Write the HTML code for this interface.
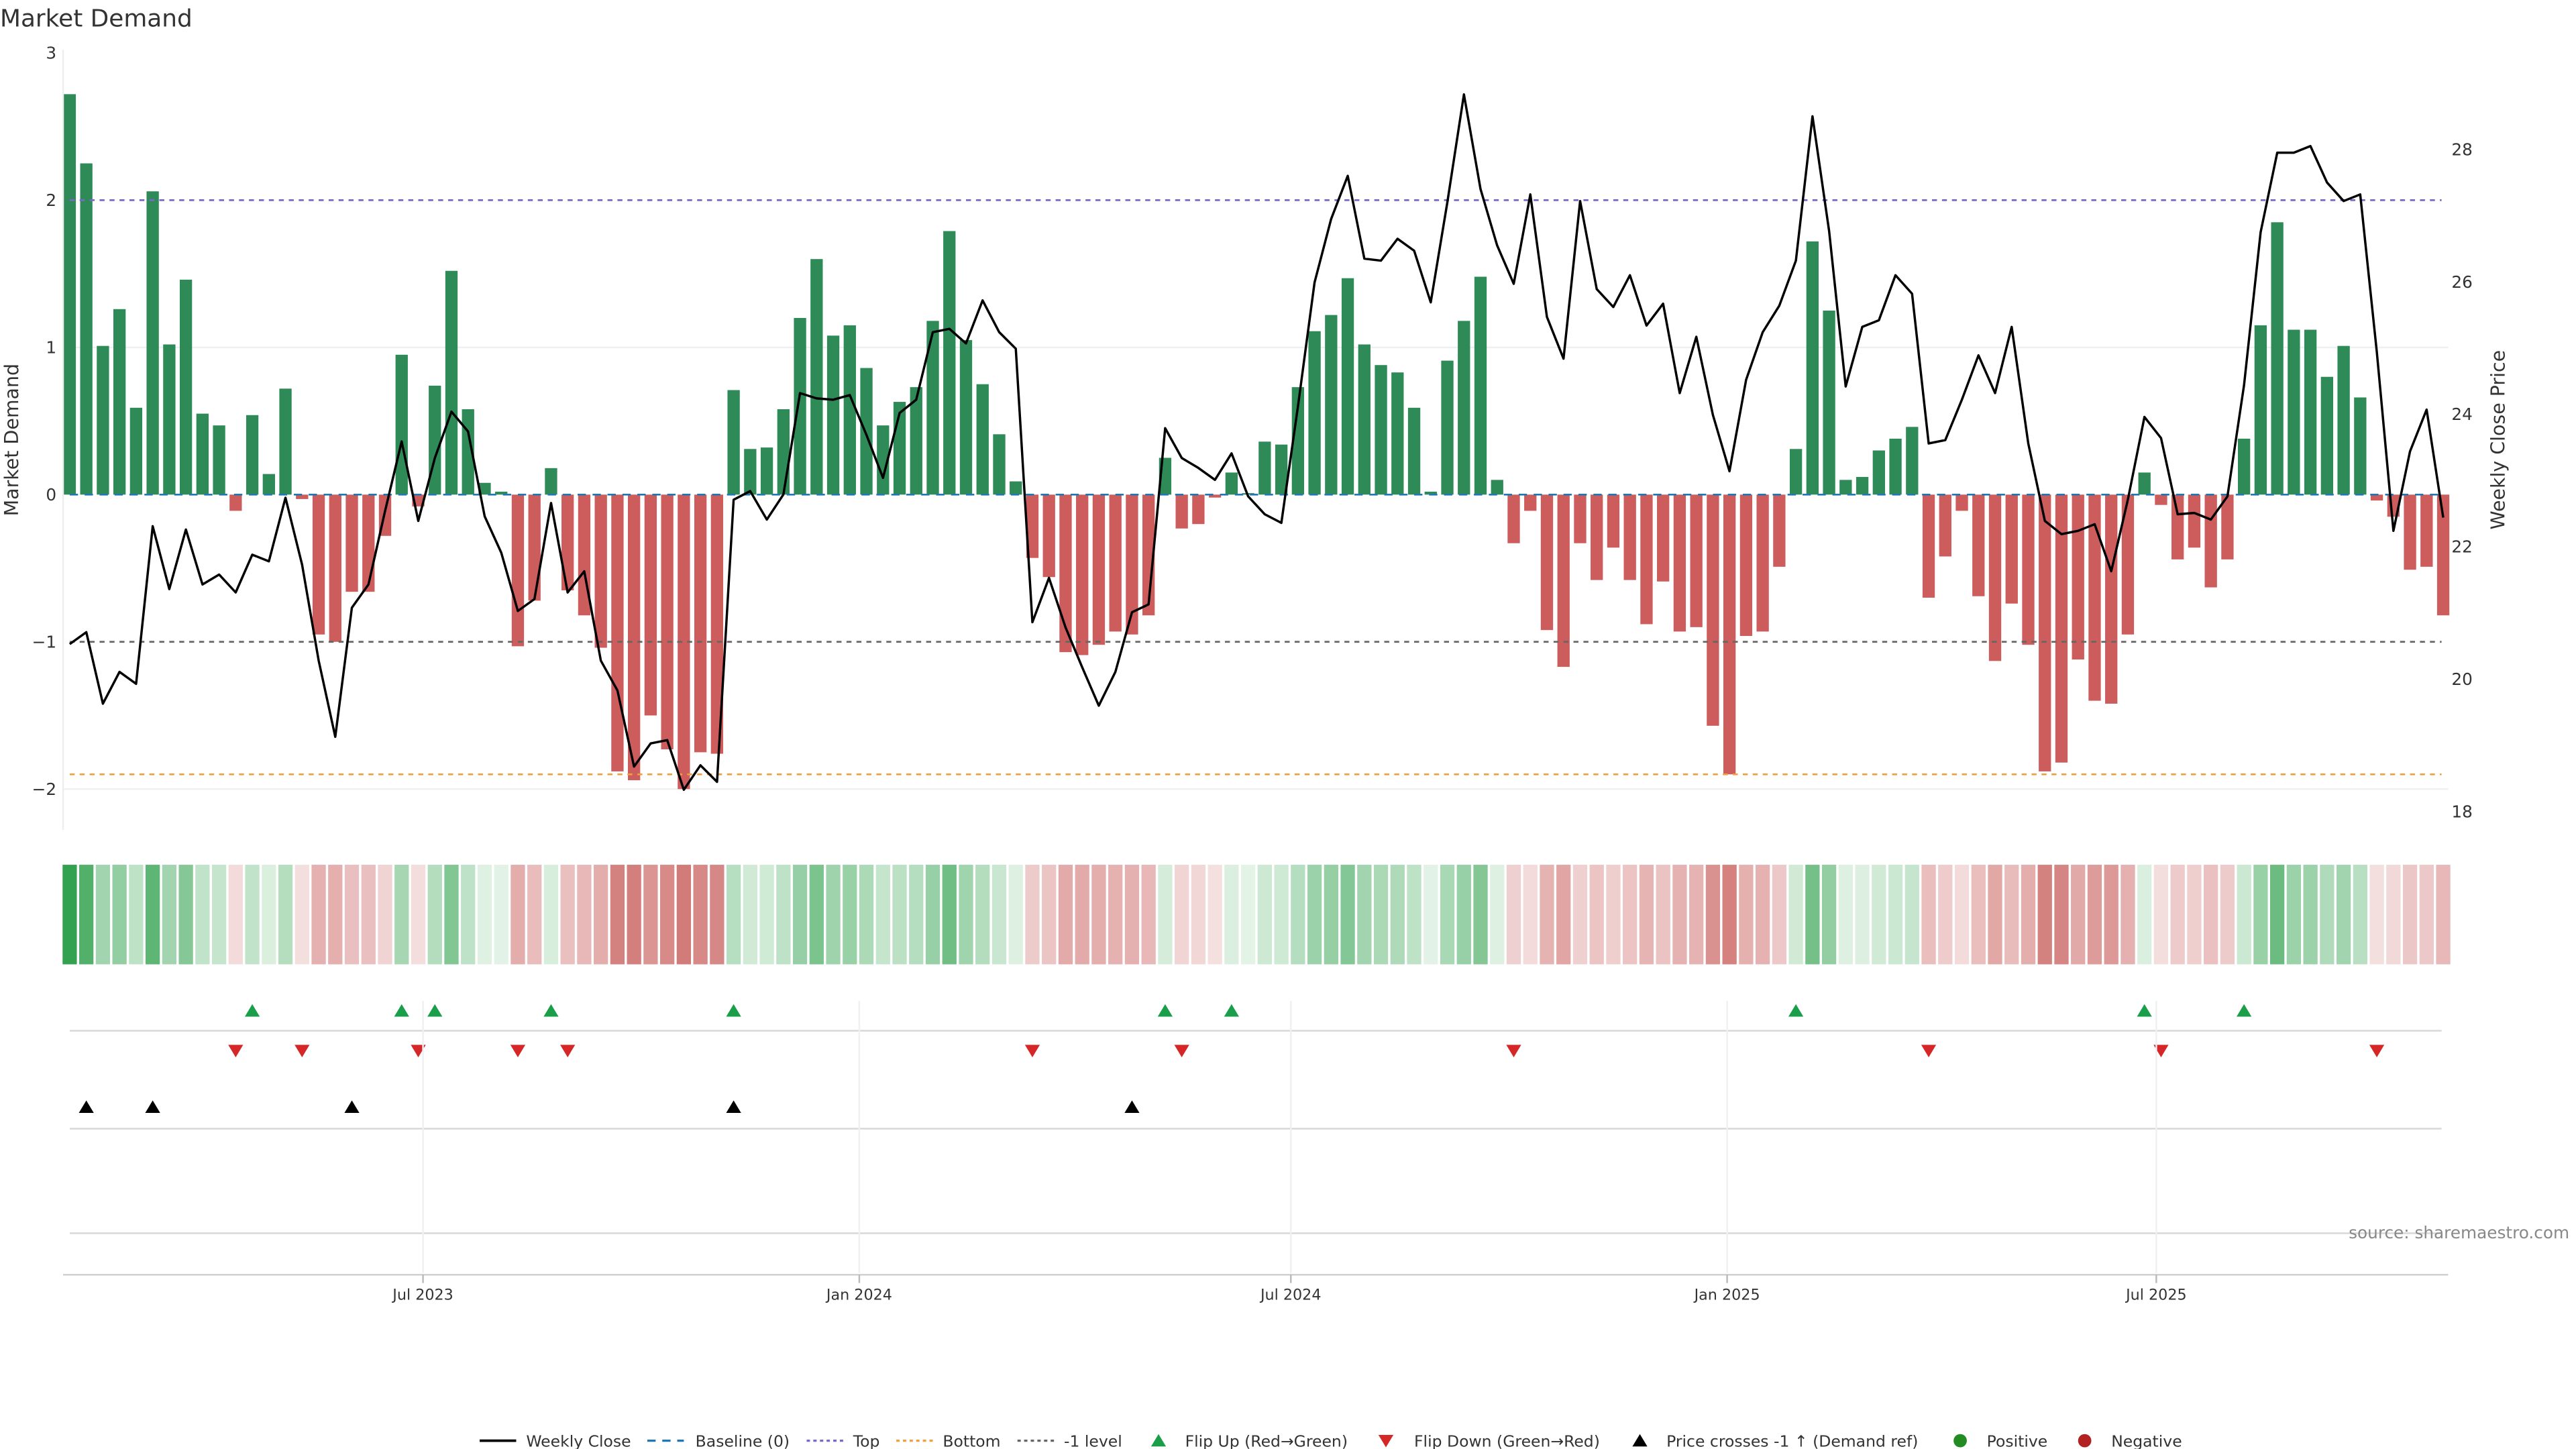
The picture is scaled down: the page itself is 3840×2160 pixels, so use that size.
<!DOCTYPE html>
<html><head><meta charset="utf-8"><title>Market Demand</title>
<style>
html,body{margin:0;padding:0;background:#fff;}
svg{display:block;font-family:"DejaVu Sans","Liberation Sans",sans-serif;}
</style></head>
<body>
<svg id="chart" width="3840" height="2160" viewBox="0 0 1552 873" xmlns="http://www.w3.org/2000/svg">
<text x="0" y="16" font-size="14.5" fill="#333">Market Demand</text>
<g id="grid"></g>
<g id="bars"></g>
<g id="heat"></g>
<g id="refs"></g>
<g id="line"></g>
<g id="markers"></g>
<g id="axes"></g>
<g id="legend"></g>
<text x="1548" y="746" font-size="10" fill="#888" text-anchor="end">source: sharemaestro.com</text>
</svg>
<script>
const demand = [2.72,2.25,1.01,1.26,0.59,2.06,1.02,1.46,0.55,0.47,-0.11,0.54,0.14,0.72,-0.03,-0.95,-1.0,-0.66,-0.66,-0.28,
0.95,-0.08,0.74,1.52,0.58,0.08,0.02,-1.03,-0.72,0.18,-0.65,-0.82,-1.04,-1.88,-1.94,-1.50,-1.73,-2.0,-1.75,-1.76,
0.71,0.31,0.32,0.58,1.2,1.6,1.08,1.15,0.86,0.47,0.63,0.73,1.18,1.79,1.05,0.75,0.41,0.09,-0.43,-0.56,
-1.07,-1.09,-1.02,-0.93,-0.95,-0.82,0.25,-0.23,-0.2,-0.02,0.15,0.01,0.36,0.34,0.73,1.11,1.22,1.47,1.02,0.88,
0.83,0.59,0.02,0.91,1.18,1.48,0.1,-0.33,-0.11,-0.92,-1.17,-0.33,-0.58,-0.36,-0.58,-0.88,-0.59,-0.93,-0.9,-1.57,
-1.9,-0.96,-0.93,-0.49,0.31,1.72,1.25,0.1,0.12,0.3,0.38,0.46,-0.7,-0.42,-0.11,-0.69,-1.13,-0.74,-1.02,-1.88,
-1.82,-1.12,-1.4,-1.42,-0.95,0.15,-0.07,-0.44,-0.36,-0.63,-0.44,0.38,1.15,1.85,1.12,1.12,0.8,1.01,0.66,-0.04,
-0.15,-0.51,-0.49,-0.82];
const price = [20.53,20.71,19.63,20.11,19.93,22.31,21.36,22.26,21.43,21.58,21.31,21.88,21.78,22.74,21.73,20.28,19.13,21.08,21.43,22.54,
23.59,22.39,23.34,24.04,23.74,22.46,21.91,21.03,21.21,22.66,21.31,21.63,20.28,19.83,18.68,19.03,19.08,18.33,18.70,18.45,
22.71,22.84,22.41,22.79,24.32,24.24,24.22,24.29,23.69,23.04,24.02,24.22,25.24,25.29,25.07,25.72,25.24,24.99,20.86,21.53,
20.78,20.18,19.60,20.11,21.01,21.13,23.79,23.34,23.19,23.01,23.41,22.76,22.49,22.36,24.12,25.99,26.95,27.60,26.35,26.32,
26.65,26.47,25.69,27.20,28.83,27.40,26.55,25.97,27.32,25.47,24.84,27.22,25.89,25.62,26.10,25.34,25.67,24.32,25.17,23.99,
23.14,24.52,25.24,25.64,26.32,28.50,26.77,24.42,25.32,25.42,26.10,25.82,23.56,23.61,24.22,24.89,24.32,25.32,23.56,22.39,
22.19,22.24,22.34,21.63,22.71,23.96,23.64,22.49,22.51,22.41,22.76,24.44,26.75,27.95,27.95,28.05,27.50,27.22,27.32,24.94,
22.24,23.44,24.07,22.44];
const demandTicks = [3,2,1,0,-1,-2];
const priceTicks = [28,26,24,22,20,18];
const refLevels = [0,2,-1,-1.9];
const dateTickLabels = ["Jul 2023","Jan 2024","Jul 2024","Jan 2025","Jul 2025"];
const dateTickValues = ["2023-07-01","2024-01-01","2024-07-01","2025-01-01","2025-07-01"];
const startDate = "2023-02-02";

const NS="http://www.w3.org/2000/svg";
function mk(parent,tag,attrs){const e=document.createElementNS(NS,tag);for(const k in attrs)e.setAttribute(k,attrs[k]);parent.appendChild(e);return e;}
const t0=Date.parse(startDate);
const xIdx=i=>42+10*i;
const xDate=s=>xIdx((Date.parse(s)-t0)/(7*864e5));
const yD=d=>298-88.7*d;
const yP=p=>90+(28-p)*39.9;
const G=id=>document.getElementById(id);

// grid + axes
const grid=G('grid');
[1,-2].forEach(v=>{const l=mk(grid,'line',{x1:38,x2:1475,y1:yD(v),y2:yD(v),stroke:'#eef0f2','stroke-width':1});

});
const ax=G('axes');
let a=mk(ax,'line',{x1:38,x2:38,y1:30,y2:500,stroke:'#eceef0','stroke-width':1});


demandTicks.forEach(v=>{const t=mk(ax,'text',{x:34,y:yD(v)+3.5,'font-size':10,fill:'#333','text-anchor':'end'});t.textContent=v===0?'0':(v<0?'\u2212'+(-v):String(v));

});
priceTicks.forEach(v=>{const t=mk(ax,'text',{x:1477,y:yP(v)+3.5,'font-size':10,fill:'#333'});t.textContent=v;

});
let yt=mk(ax,'text',{x:0,y:0,'font-size':11.5,fill:'#333','text-anchor':'middle',transform:'translate(11,265) rotate(-90)'});yt.textContent='Market Demand';


let yt2=mk(ax,'text',{x:0,y:0,'font-size':11.5,fill:'#333','text-anchor':'middle',transform:'translate(1509,265) rotate(-90)'});yt2.textContent='Weekly Close Price';


// lower panel lines
[621,680,743].forEach(y=>{const l=mk(ax,'line',{x1:42,x2:1471,y1:y,y2:y,stroke:'#d8d8d8','stroke-width':1});

});
let xb=mk(ax,'line',{x1:38,x2:1475,y1:768,y2:768,stroke:'#d0d0d0','stroke-width':1});


dateTickValues.forEach((d,k)=>{const x=xDate(d);
const g=mk(ax,'line',{x1:x,x2:x,y1:603,y2:767,stroke:'#eef0f2','stroke-width':1});


const tk=mk(ax,'line',{x1:x,x2:x,y1:768,y2:773,stroke:'#bbb','stroke-width':1});


const t=mk(ax,'text',{x:x,y:783,'font-size':9,fill:'#333','text-anchor':'middle'});t.textContent=dateTickLabels[k];

});

// bars + heat
const bars=G('bars'),heat=G('heat');
function mix(c1,c2,t){return 'rgb('+c1.map((v,i)=>Math.round(v+(c2[i]-v)*t)).join(',')+')';}
demand.forEach((v,i)=>{const x=xIdx(i);
const r=mk(bars,'rect',{x:x-3.7,width:7.4,y:Math.min(yD(0),yD(v)),height:Math.abs(yD(v)-yD(0)),fill:v>=0?'#2e8b57':'#cd5c5c'});


const t=Math.min(Math.abs(v)/2.8,1);
const c=v>=0?mix([228,243,231],[46,160,76],t):mix([245,225,225],[196,84,80],t);
const h=mk(heat,'rect',{x:x-4.3,width:8.6,y:521,height:60,fill:c});

});

// reference lines
const refs=G('refs');
const refStyle=[{c:'#1f77b4',d:'5,4',n:'baseline-line'},{c:'#7b68cc',d:'3,3',n:'top-line'},{c:'#666',d:'3,3',n:'minus-one-level-line'},{c:'#f0a040',d:'3,3',n:'bottom-line'}];
refLevels.forEach((v,k)=>{const l=mk(refs,'line',{x1:42,x2:1471,y1:yD(v),y2:yD(v),stroke:refStyle[k].c,'stroke-width':1.1,'stroke-dasharray':refStyle[k].d});

});

// price line
const pl=mk(G('line'),'polyline',{points:price.map((p,i)=>xIdx(i)+','+yP(p)).join(' '),fill:'none',stroke:'#000','stroke-width':1.4,'stroke-linejoin':'round'});



// markers
const mg=G('markers');
function tri(x,y,up,col,name){const p=up?`${x-4.5},${y+3.5} ${x+4.5},${y+3.5} ${x},${y-4}`:`${x-4.5},${y-3.5} ${x+4.5},${y-3.5} ${x},${y+4}`;
const e=mk(mg,'polygon',{points:p,fill:col});

}
const priceAtMinusOne=28-(yD(-1)-90)/39.9;
for(let i=1;i<demand.length;i++){
 if(demand[i-1]<0&&demand[i]>=0)tri(xIdx(i),609,true,'#1a9e4a','flip-up-marker');
 if(demand[i-1]>=0&&demand[i]<0)tri(xIdx(i),633,false,'#d62728','flip-down-marker');
 if(price[i-1]<priceAtMinusOne&&price[i]>=priceAtMinusOne)tri(xIdx(i),667,true,'#000','price-cross-marker');
}

// legend
const lg=G('legend');const ly=868;
function ltext(x,s){const t=mk(lg,'text',{x:x,y:ly+3.5,'font-size':9.5,fill:'#333'});t.textContent=s;

}
function lline(x,c,d,w,name){const l=mk(lg,'line',{x1:x,x2:x+22,y1:ly,y2:ly,stroke:c,'stroke-width':w,'stroke-dasharray':d});

}
lline(289,'#000','none',1.5,'legend-weekly-close');ltext(317,'Weekly Close');
lline(390,'#1f77b4','5,4',1.3,'legend-baseline');ltext(419,'Baseline (0)');
lline(486,'#7b68cc','2,2',1.3,'legend-top');ltext(514,'Top');
lline(540,'#f0a040','2,2',1.3,'legend-bottom');ltext(568,'Bottom');
lline(613,'#666','2,2',1.3,'legend-minus-one');ltext(641,'-1 level');
tri(698,ly,true,'#1a9e4a','legend-flip-up');ltext(714,'Flip Up (Red\u2192Green)');
tri(835,ly,false,'#d62728','legend-flip-down');ltext(852,'Flip Down (Green\u2192Red)');
tri(988,ly,true,'#000','legend-price-cross');ltext(1004,'Price crosses -1 \u2191 (Demand ref)');
let c1=mk(lg,'circle',{cx:1181,cy:ly,r:4,fill:'#228b22'});


ltext(1197,'Positive');
let c2=mk(lg,'circle',{cx:1256,cy:ly,r:4,fill:'#b22222'});


ltext(1272,'Negative');
</script>
</body></html>
